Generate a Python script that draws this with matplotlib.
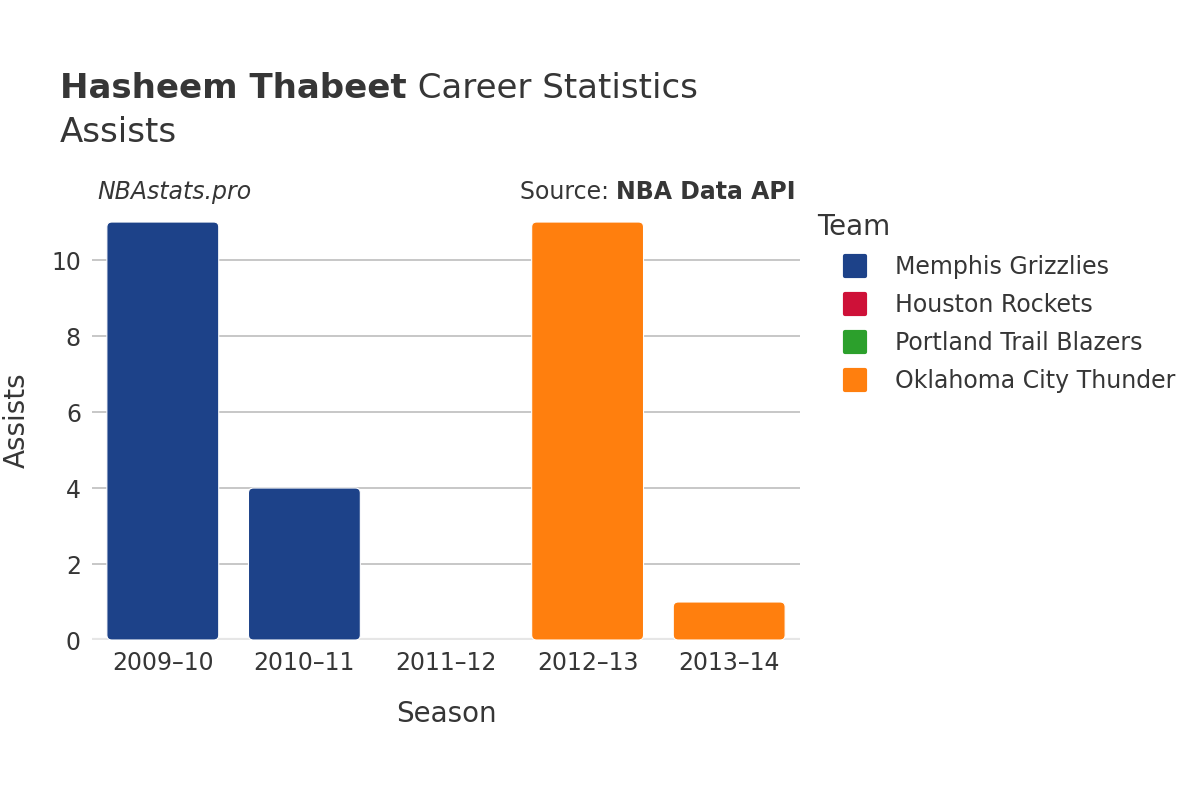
import matplotlib
matplotlib.use("Agg")
import matplotlib.pyplot as plt
from matplotlib.patches import FancyBboxPatch
from matplotlib.lines import Line2D
from matplotlib.markers import MarkerStyle

# Data
seasons = ["2009–10", "2010–11", "2011–12", "2012–13", "2013–14"]
bar_teams = ["Memphis Grizzlies", "Memphis Grizzlies", "Houston Rockets", "Oklahoma City Thunder", "Oklahoma City Thunder"]
assists = [11, 4, 0, 11, 1]
teams = ["Memphis Grizzlies", "Houston Rockets", "Portland Trail Blazers", "Oklahoma City Thunder"]
team_colors = {
    "Memphis Grizzlies": "#1d4289",
    "Houston Rockets": "#ce1138",
    "Portland Trail Blazers": "#2ca02c",
    "Oklahoma City Thunder": "#ff7f0e",
}

txt = "#363636"
plt.rcParams["font.family"] = ["DejaVu Sans"]

fig = plt.figure(figsize=(12, 8), dpi=100)
ax = fig.add_axes([92 / 1200, 1 - 640 / 800, 708 / 1200, 440 / 800])
ax.set_xlim(-0.5, len(seasons) - 0.5)
ax.set_ylim(0, 11.58)

# rounded bars
px_x = 708 / len(seasons)
px_y = 440 / 11.58
width = 0.79
for i, (v, t) in enumerate(zip(assists, bar_teams)):
    if v <= 0:
        continue
    p = FancyBboxPatch((i - width / 2, 0), width, v,
                       boxstyle="round,pad=0,rounding_size=0.035",
                       mutation_aspect=px_x / px_y,
                       facecolor=team_colors[t], edgecolor="white", linewidth=0.8, zorder=3)
    ax.add_patch(p)

ax.set_yticks([0, 2, 4, 6, 8, 10])
ax.set_xticks(range(len(seasons)))
ax.set_xticklabels(seasons)
ax.grid(axis="y", color="#bdbdbd", linewidth=1.2, zorder=0)
ax.axhline(0, color="#e6e6e6", linewidth=3, zorder=2)
for s in ax.spines.values():
    s.set_visible(False)
ax.tick_params(length=0, labelsize=17, labelcolor=txt, pad=8)
ax.set_xlabel("Season", fontsize=20, color=txt, labelpad=18)
ax.set_ylabel("Assists", fontsize=20, color=txt, va="center")
ax.yaxis.set_label_coords((17 - 92) / 708, 0.5)

# titles
fig.canvas.draw()
r = fig.canvas.get_renderer()
t1 = fig.text(60 / 1200, 1 - 88 / 800, "Hasheem Thabeet", fontsize=24.5, fontweight="bold", color=txt, va="center")
bb = t1.get_window_extent(r)
fig.text(bb.x1 / 1200, 1 - 88 / 800, " Career Statistics", fontsize=24.5, color=txt, va="center")
fig.text(60 / 1200, 1 - 132 / 800, "Assists", fontsize=24.5, color=txt, va="center")

fig.text(97 / 1200, 1 - 192 / 800, "NBAstats.pro", fontsize=17, style="italic", color=txt, va="center")
t2 = fig.text(796 / 1200, 1 - 192 / 800, "NBA Data API", fontsize=17, fontweight="bold", color=txt, va="center", ha="right")
bb2 = t2.get_window_extent(r)
fig.text(bb2.x0 / 1200, 1 - 192 / 800, "Source: ", fontsize=17, color=txt, va="center", ha="right")

# legend
handles = [Line2D([], [], marker=MarkerStyle("s", joinstyle="round"), linestyle="none", markersize=14,
                  markeredgewidth=3, markerfacecolor=team_colors[t], markeredgecolor=team_colors[t])
           for t in teams]
leg = fig.legend(handles, teams, title="Team", loc="upper left",
                 bbox_to_anchor=(808 / 1200, 1 - 204 / 800), frameon=False,
                 fontsize=17, title_fontsize=20, labelspacing=0.59,
                 handlelength=3.19, handletextpad=0.08, borderaxespad=0)
leg._legend_box.align = "left"
for tx in leg.get_texts():
    tx.set_color(txt)
leg.get_title().set_color(txt)

fig.savefig("out.png", dpi=100)
